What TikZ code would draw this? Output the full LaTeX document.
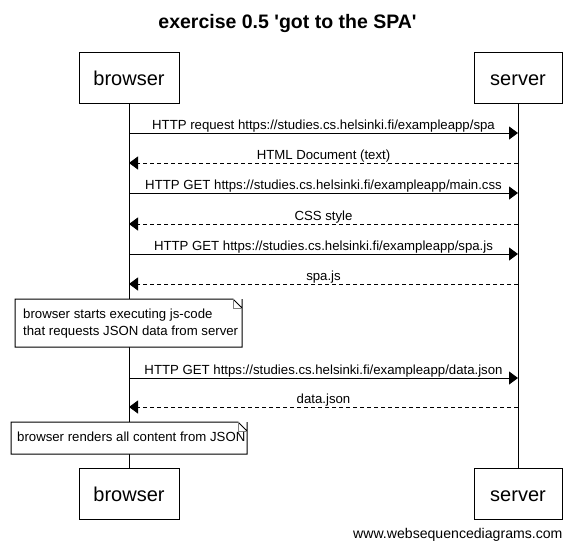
\documentclass[tikz,border=0pt]{standalone}
\usepackage{fontspec}
\setmainfont{Liberation Sans}[Ligatures=TeXOff]
\usetikzlibrary{arrows.meta}
\tikzset{
    actor/.style = {draw, line width=1pt, minimum height=51pt, inner sep=0pt,
        text height=15.5pt, text depth=0pt, font=\fontsize{20}{24}\selectfont},
    msg/.style = {line width=1pt, -{Triangle[length=9pt,width=13pt]}},
    reply/.style = {msg, dash pattern=on 4pt off 3pt},
    msglabel/.style = {midway, anchor=base, yshift=3.5pt, inner sep=0pt, font=\fontsize{13.2}{15}\selectfont},
    notetext/.style = {anchor=north west, align=left, inner sep=0pt,
        font=\fontsize{13.2}{17}\selectfont},
}
% note with a folded corner, #1 = top left, #2 = bottom right
\newcommand{\notebox}[2]{%
    \draw[line width=1pt,fill=white] (#1) -- ($(#1-|#2)+(-9,0)$) -- ($(#1-|#2)+(0,9)$) -- (#1-|#2) -- (#2) -- (#1|-#2) -- cycle;
    \draw[gray,line width=1pt] ($(#1-|#2)+(-9,0)$) -- ($(#1-|#2)+(-9,9)$) -- ($(#1-|#2)+(0,9)$);
}
\usetikzlibrary{calc}
\begin{document}
\begin{tikzpicture}[x=1pt,y=-1pt]
\useasboundingbox (0,0) rectangle (575,550);

\node[font=\fontsize{19.5}{22}\selectfont\bfseries] (title) at (287.5,23.5) {exercise 0.5 'got to the SPA'};

\node[actor, minimum width=100pt] (btop) at (129,77.5) {browser};
\node[actor, minimum width=88pt]  (stop) at (518,77.5) {server};
\node[actor, minimum width=100pt] (bbot) at (129,493.5) {browser};
\node[actor, minimum width=88pt]  (sbot) at (518,493.5) {server};

\draw[line width=1pt] (btop) -- (bbot);
\draw[line width=1pt] (stop) -- (sbot);

% message rows
\coordinate (r1) at (0,133);
\coordinate (r2) at (0,163);
\coordinate (r3) at (0,193);
\coordinate (r4) at (0,224);
\coordinate (r5) at (0,254);
\coordinate (r6) at (0,284);
\coordinate (r7) at (0,378);
\coordinate (r8) at (0,407);

\draw[msg]   (btop|-r1) -- (stop|-r1) node[msglabel]{HTTP request https://studies.cs.helsinki.fi/exampleapp/spa};
\draw[reply] (stop|-r2) -- (btop|-r2) node[msglabel]{HTML Document (text)};
\draw[msg]   (btop|-r3) -- (stop|-r3) node[msglabel]{HTTP GET https://studies.cs.helsinki.fi/exampleapp/main.css};
\draw[reply] (stop|-r4) -- (btop|-r4) node[msglabel]{CSS style};
\draw[msg]   (btop|-r5) -- (stop|-r5) node[msglabel]{HTTP GET https://studies.cs.helsinki.fi/exampleapp/spa.js};
\draw[reply] (stop|-r6) -- (btop|-r6) node[msglabel]{spa.js};

\coordinate (n1a) at (15,299);
\coordinate (n1b) at (242,347);
\notebox{n1a}{n1b}
\node[notetext] (n1) at (23,309) {browser starts executing js-code\\that requests JSON data from server};

\draw[msg]   (btop|-r7) -- (stop|-r7) node[msglabel]{HTTP GET https://studies.cs.helsinki.fi/exampleapp/data.json};
\draw[reply] (stop|-r8) -- (btop|-r8) node[msglabel]{data.json};

\coordinate (n2a) at (11,422);
\coordinate (n2b) at (247,454);
\notebox{n2a}{n2b}
\node[notetext] (n2) at (17,432) {browser renders all content from JSON};

\node[font=\fontsize{14.1}{16}\selectfont, anchor=east] (footer) at (566,535) {www.websequencediagrams.com};
\end{tikzpicture}
\end{document}
